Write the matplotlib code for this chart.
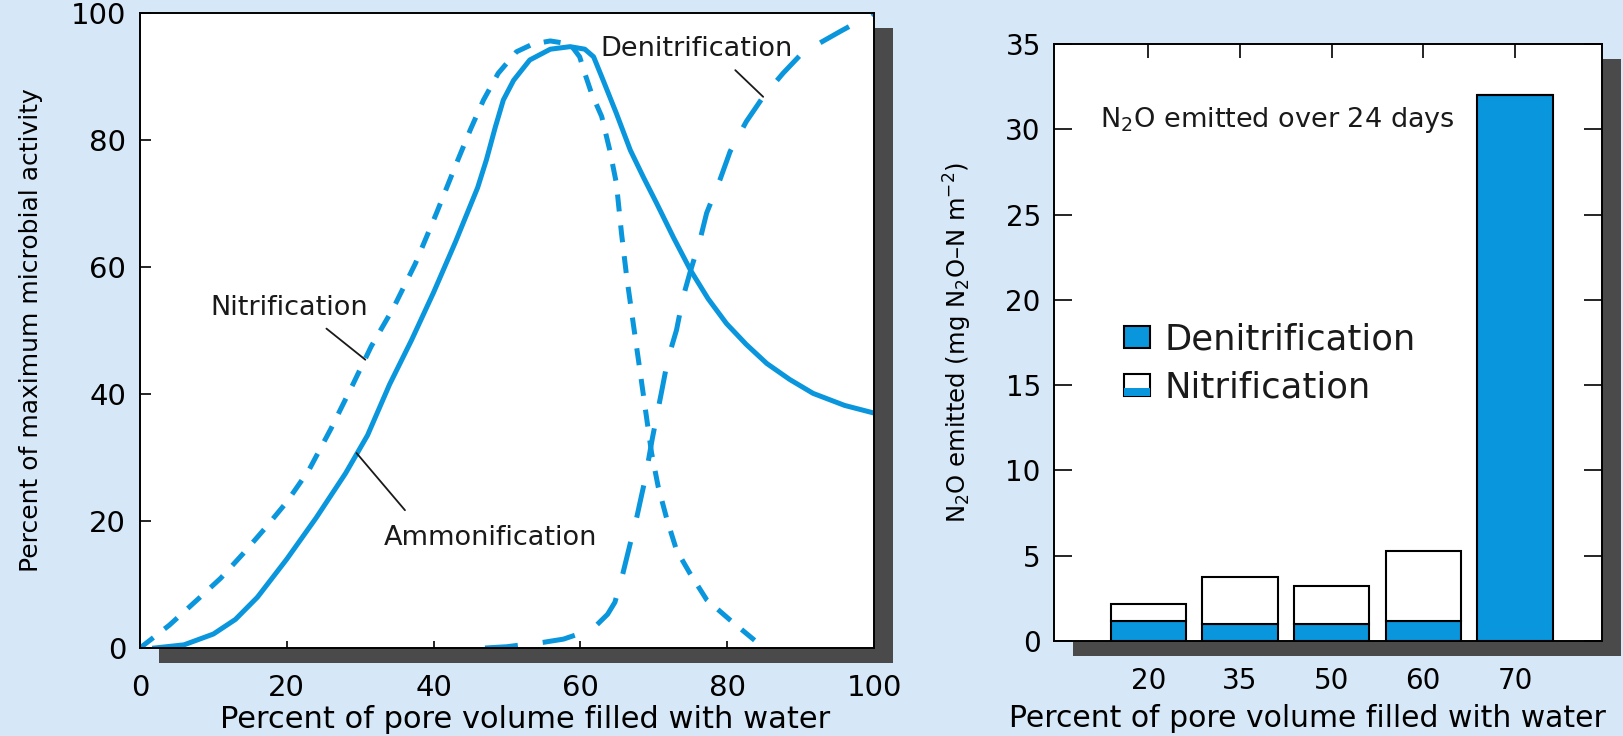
import matplotlib
matplotlib.use('Agg')
import numpy as np
import matplotlib.pyplot as plt
import matplotlib.patheffects as pe
from matplotlib.patches import Patch, Rectangle
from matplotlib.legend_handler import HandlerBase

BLUE = '#0a96dc'
BG = '#d6e8f8'
SHADOW = '#4a4a4a'
INK = '#1a1a1a'

# left panel: percent of maximum activity vs water filled pore space
amm_x = [2, 6, 10, 13, 16, 20, 24, 28, 31, 34, 37, 40, 43, 46, 47.2, 48.4,
         49.5, 50.9, 53.1, 55.9, 58.6, 60.6, 61.8, 63.1, 64.9, 66.8, 68.6,
         70.4, 72.7, 75, 77.4, 79.9, 82.6, 85.4, 88.5, 91.7, 96, 100]
amm_y = [0, 0.5, 2.2, 4.5, 8.0, 14.0, 20.5, 27.5, 33.5, 41.5, 48.5, 56.0,
         64.0, 72.5, 76.9, 82.0, 86.3, 89.4, 92.6, 94.3, 94.7, 94.3, 93.1,
         89.4, 84.2, 78.4, 74.1, 70.0, 64.6, 59.5, 55.0, 51.1, 47.8, 44.8,
         42.3, 40.1, 38.2, 37.0]

nit_x = [0, 4, 8, 11, 14, 17, 20, 23, 26, 29, 31.5, 34.5, 37.5, 40.4, 43,
         45, 46.8, 48.8, 51.3, 53.5, 55.9, 58.6, 59.9, 60.6, 61.5, 62.9, 64.0,
         64.9, 65.6, 66.3, 67.2, 68.1, 69.0, 69.7, 70.6, 71.8, 73.1, 74.9,
         77.2, 80.4, 85]
nit_y = [0, 3.6, 7.8, 11, 14.8, 18.8, 23, 28, 34.5, 41.5, 47.5, 53.5, 60.5,
         68.5, 76, 81.6, 86.3, 90.5, 93.9, 95.1, 95.6, 95.1, 93.1, 90.5, 87.4,
         83.7, 78.4, 73.2, 65.3, 58.5, 51.1, 43.8, 36.4, 30.7, 25.4, 20.2,
         15.4, 11.8, 7.6, 4.4, 0]

den_x = [47, 50, 52, 55, 57.7, 60, 62.2, 63.7, 64.7, 65.2, 65.8, 66.8, 67.7,
         68.8, 69.8, 71.1, 71.9, 73.1, 74.0, 74.9, 76.3, 77.2, 79.0, 80.4,
         82.6, 84.9, 87.6, 89.9, 92.5, 95.4, 100]
den_y = [0, 0.2, 0.5, 0.9, 1.4, 2.3, 3.6, 5.3, 7.2, 9.2, 11.8, 16.5, 20.7,
         26.5, 33.0, 40.6, 45.4, 50.1, 55.3, 59.0, 64.3, 68.5, 73.7, 78.2,
         82.9, 86.8, 90.5, 93.3, 95.2, 97.1, 100]

# right panel: N2O emitted over 24 days
water_pct = ['20', '35', '50', '60', '70']
denit_n2o = [1.2, 1.0, 1.0, 1.2, 32.0]
nitr_n2o = [0.95, 2.75, 2.2, 4.1, 0.0]


class NitHandler(HandlerBase):
    # white box with a blue strip at the bottom
    def create_artists(self, legend, orig_handle, xdescent, ydescent,
                       width, height, fontsize, trans):
        box = Rectangle((-xdescent, -ydescent), width, height, facecolor='white',
                        edgecolor='black', lw=1.5, transform=trans)
        strip = Rectangle((-xdescent, -ydescent), width, height * 0.35,
                          facecolor=BLUE, edgecolor='none', transform=trans)
        return [box, strip]


plt.rcParams['font.family'] = ['DejaVu Sans']
plt.rcParams['mathtext.fontset'] = 'dejavusans'
plt.rcParams['text.color'] = INK

fig = plt.figure(figsize=(16.23, 7.36), dpi=100, facecolor=BG)

ax1 = fig.add_axes([140 / 1623, 88 / 736, 734 / 1623, 635 / 736])
ax2 = fig.add_axes([1054 / 1623, 95 / 736, 548 / 1623, 597 / 736])

for ax in (ax1, ax2):
    ax.patch.set_path_effects([
        pe.SimplePatchShadow(offset=(13.7, -10.8), shadow_rgbFace=SHADOW, alpha=1.0),
        pe.Normal()])
    for s in ax.spines.values():
        s.set_linewidth(1.4)
        s.set_color('black')

# ---- left panel ----
lw = 3.6
style = dict(color=BLUE, lw=lw, solid_joinstyle='round', dash_joinstyle='round')
ax1.plot(amm_x, amm_y, **style)
ax1.plot(nit_x, nit_y, linestyle=(0, (3.4, 2.8)), **style)
ax1.plot(den_x, den_y, linestyle=(0, (6.6, 5.0)), **style)

ax1.set_xlim(0, 100)
ax1.set_ylim(0, 100)
ax1.set_xticks([0, 20, 40, 60, 80, 100])
ax1.set_yticks([0, 20, 40, 60, 80, 100])
ax1.tick_params(axis='x', direction='in', length=5, width=1.2, labelsize=21, pad=19)
ax1.tick_params(axis='y', direction='in', length=8, width=1.2, labelsize=21, pad=10)

ax1.text(20.3, 53.5, 'Nitrification', fontsize=19.5, ha='center', va='center')
ax1.text(47.8, 17.3, 'Ammonification', fontsize=19.5, ha='center', va='center')
ax1.text(75.8, 94.4, 'Denitrification', fontsize=19.5, ha='center', va='center')
leaders = [((25.4, 50.3), (30.7, 45.4)),
           ((36.1, 21.7), (29.5, 30.7)),
           ((81.1, 91.0), (84.9, 86.8))]
for start, end in leaders:
    ax1.annotate('', xy=end, xytext=start,
                 arrowprops=dict(arrowstyle='-', color=INK, lw=1.3,
                                 shrinkA=0, shrinkB=0))

ax1.set_xlabel('Percent of pore volume filled with water', fontsize=22)
ax1.xaxis.set_label_coords(0.525, -0.09)
ax1.set_ylabel('Percent of maximum microbial activity', fontsize=18)
ax1.yaxis.set_label_coords(-0.132, 0.5)

# ---- right panel ----
pos = np.arange(1, len(water_pct) + 1)
bw = 0.825
ax2.bar(pos, denit_n2o, bw, color=BLUE, edgecolor='black', lw=1.5, zorder=2)
ax2.bar(pos, nitr_n2o, bw, bottom=denit_n2o, color='white', edgecolor='black',
        lw=1.5, zorder=2)

ax2.set_xlim(-0.03, 5.95)
ax2.set_ylim(0, 35)
ax2.set_yticks(range(0, 36, 5))
ax2.set_xticks(pos, water_pct)
ax2.tick_params(axis='x', top=True, bottom=False, direction='in', length=10,
                width=1.2, labelsize=20, pad=18.5)
ax2.tick_params(axis='y', left=True, right=True, direction='in', length=13,
                width=1.2, labelsize=20, pad=9.5)

ax2.text(0.084, 0.873, r'N$_2$O emitted over 24 days', transform=ax2.transAxes,
         fontsize=19.5, ha='left', va='center')

den_handle = Patch(facecolor=BLUE, edgecolor='black', lw=1.5)
nit_handle = Patch(facecolor='white', edgecolor='black')
ax2.legend([den_handle, nit_handle], ['Denitrification', 'Nitrification'],
           handler_map={nit_handle: NitHandler()}, loc='center left',
           bbox_to_anchor=(0.128, 0.465), frameon=False, fontsize=25.5,
           handlelength=0.73, handleheight=0.6, handletextpad=0.42,
           labelspacing=0.4, borderpad=0, borderaxespad=0)

ax2.set_xlabel('Percent of pore volume filled with water', fontsize=21.5)
ax2.xaxis.set_label_coords(0.4617, -0.1055)
ax2.set_ylabel(r'N$_2$O emitted (mg N$_2$O–N m$^{-2}$)', fontsize=17.5)
ax2.yaxis.set_label_coords(-0.146, 0.5)

fig.savefig('out.png', dpi=100, facecolor=BG)
